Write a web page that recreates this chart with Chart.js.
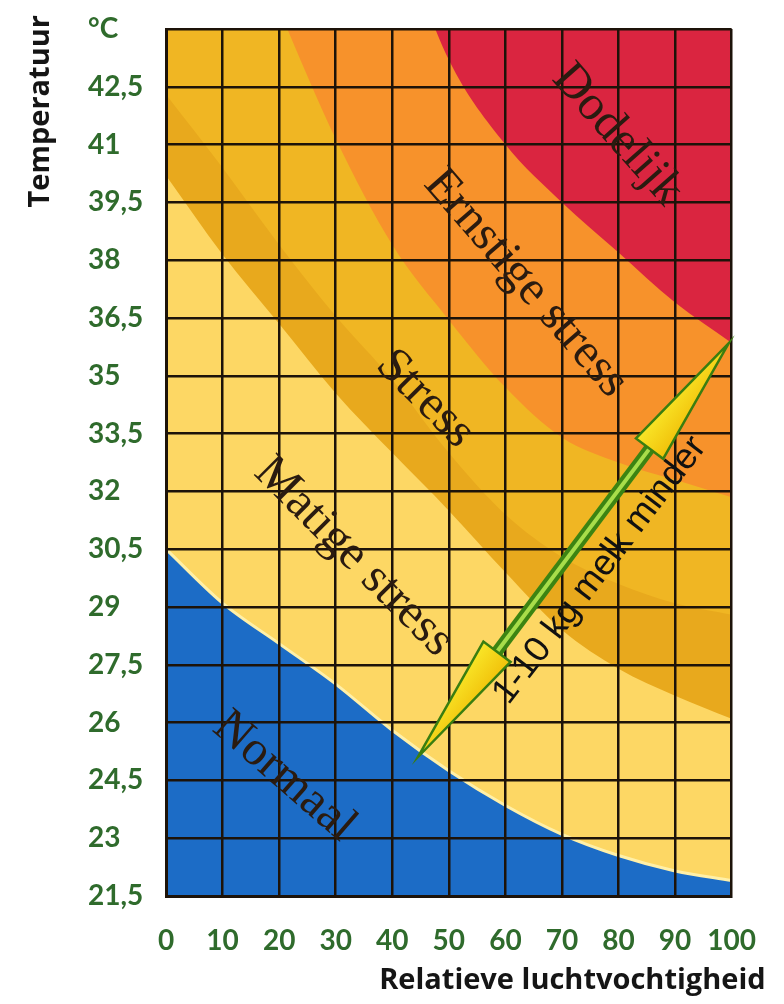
<!DOCTYPE html>
<html>
<head>
<meta charset="utf-8">
<script src="https://cdn.jsdelivr.net/npm/chart.js@4.4.1/dist/chart.umd.min.js"></script>
<style>
  html, body { margin: 0; padding: 0; background: #fff; }
  #wrap { width: 784px; height: 1004px; position: relative; }
</style>
</head>
<body>
<div id="wrap"><canvas id="chart"></canvas></div>
<script>
const humidity = [0, 10, 20, 30, 40, 50, 60, 70, 80, 90, 100]

// Upper temperature (°C) of each zone per humidity step
const normaalGrens  = [30.5, 29.1, 28.05, 27.0, 25.8, 24.75, 23.85, 23.1, 22.55, 22.15, 21.9]
const matigGrens    = [40.2, 38.15, 36.35, 34.55, 33.0, 31.5, 29.9, 28.4, 27.4, 26.7, 26.1]
const stressGrens   = [42.3, 40.4, 38.4, 36.55, 34.9, 33.0, 31.4, 30.3, 29.6, 29.1, 28.8]
const ernstigGrens  = [null, 48.0, 44.5, 41.15, 38.4, 36.45, 34.7, 33.4, 32.75, 32.3, 31.85]
const dodelijkGrens = [null, null, null, null, 47.0, 43.2, 41.0, 39.5, 38.2, 36.9, 35.85]

const tempTicks = [21.5, 23, 24.5, 26, 27.5, 29, 30.5, 32, 33.5, 35, 36.5, 38, 39.5, 41, 42.5, 44]

const zoneLabels = [
  { text: 'Dodelijk',        x: 79.8, y: 41.25, angle: 48.5 },
  { text: 'Ernstige stress', x: 63.6, y: 37.4,  angle: 49 },
  { text: 'Stress',          x: 45.8, y: 34.4,  angle: 45 },
  { text: 'Matige stress',   x: 33.2, y: 30.3,  angle: 45 },
  { text: 'Normaal',         x: 20.9, y: 24.6,  angle: 41 },
]
const arrowLabel = { text: '1-10 kg melk minder', x: 76.7, y: 29.95, angle: -52.5 }
const arrowEnds = [{ x: 44.5, y: 25.1 }, { x: 99.5, y: 35.85 }]

const GREEN = '#2f6b2c'
const GRID = '#1d1309'

const points = arr => humidity.map((x, i) => ({ x, y: arr[i] }))

function zone(arr, color, fill, order, extra) {
  return Object.assign({
    data: points(arr),
    backgroundColor: color,
    borderWidth: 0,
    pointRadius: 0,
    tension: 0.4,
    cubicInterpolationMode: 'monotone',
    fill,
    order
  }, extra || {})
}

function drawArrow(ctx, x1, y1, x2, y2) {
  const ang = Math.atan2(y2 - y1, x2 - x1)
  const len = Math.hypot(x2 - x1, y2 - y1)
  const head = 132, half = 17
  ctx.save()
  ctx.translate(x1, y1)
  ctx.rotate(ang)

  // shaft
  ctx.lineCap = 'butt'
  ctx.strokeStyle = '#3c8412'
  ctx.lineWidth = 12
  ctx.beginPath(); ctx.moveTo(head - 2, 0); ctx.lineTo(len - head + 2, 0); ctx.stroke()
  ctx.strokeStyle = '#a8dd4a'
  ctx.lineWidth = 4
  ctx.beginPath(); ctx.moveTo(head, 0); ctx.lineTo(len - head, 0); ctx.stroke()

  // heads
  const tri = (tip, base) => {
    ctx.beginPath()
    ctx.moveTo(tip, 0)
    ctx.lineTo(base, -half)
    ctx.lineTo(base, half)
    ctx.closePath()
    const g = ctx.createLinearGradient(0, -half, 0, half)
    g.addColorStop(0, '#f9e628')
    g.addColorStop(1, '#f1c10a')
    ctx.fillStyle = g
    ctx.fill()
    ctx.lineJoin = 'miter'
    ctx.lineWidth = 2.5
    ctx.strokeStyle = '#3a7e10'
    ctx.stroke()
  }
  tri(0, head)
  tri(len, len - head)
  ctx.restore()
}

const annotations = {
  id: 'annotations',
  afterDraw(chart) {
    const { ctx, chartArea, scales: { x, y } } = chart

    ctx.save()
    ctx.beginPath()
    ctx.rect(chartArea.left, chartArea.top, chartArea.right - chartArea.left, chartArea.bottom - chartArea.top)
    ctx.clip()
    ctx.fillStyle = '#2a1b10'
    ctx.textAlign = 'center'
    ctx.textBaseline = 'middle'
    ctx.font = '49px "Liberation Serif", "Times New Roman", serif'
    zoneLabels.forEach(l => {
      ctx.save()
      ctx.translate(x.getPixelForValue(l.x), y.getPixelForValue(l.y))
      ctx.rotate(l.angle * Math.PI / 180)
      ctx.fillText(l.text, 0, 0)
      ctx.restore()
    })
    ctx.restore()

    const [a, b] = arrowEnds
    drawArrow(ctx, x.getPixelForValue(a.x), y.getPixelForValue(a.y), x.getPixelForValue(b.x), y.getPixelForValue(b.y))

    ctx.save()
    ctx.fillStyle = '#111'
    ctx.textAlign = 'center'
    ctx.textBaseline = 'middle'
    ctx.font = '36px "Liberation Sans", Arial, sans-serif'
    ctx.translate(x.getPixelForValue(arrowLabel.x), y.getPixelForValue(arrowLabel.y))
    ctx.rotate(arrowLabel.angle * Math.PI / 180)
    ctx.fillText(arrowLabel.text, 0, 0)
    ctx.restore()

    // axis titles
    ctx.save()
    ctx.fillStyle = '#151515'
    ctx.font = 'bold 29px "Open Sans", sans-serif'
    ctx.textAlign = 'right'
    ctx.textBaseline = 'alphabetic'
    ctx.fillText('Relatieve luchtvochtigheid', chartArea.right + 34, chartArea.bottom + 93)
    ctx.translate(49, chartArea.top - 14)
    ctx.rotate(-Math.PI / 2)
    ctx.fillText('Temperatuur', 0, 0)
    ctx.restore()
  }
}

const tickFont = { family: 'Lato', weight: 'bold', size: 28 }

new Chart(document.getElementById('chart'), {
  type: 'line',
  data: {
    datasets: [
      zone(normaalGrens, '#1c6cc6', 'start', 6),
      zone(normaalGrens, '#fdd764', 'end', 5, { borderColor: '#fff0a8', borderWidth: 3 }),
      zone(matigGrens, '#e8a91d', 'end', 4),
      zone(stressGrens, '#f0b623', 'end', 3),
      zone(ernstigGrens, '#f7922b', 'end', 2),
      zone(dodelijkGrens, '#da2540', 'end', 1),
    ]
  },
  options: {
    responsive: true,
    maintainAspectRatio: false,
    animation: false,
    devicePixelRatio: 1,
    layout: { padding: { left: 88, top: 29, right: 43, bottom: 0 } },
    plugins: { legend: { display: false }, tooltip: { enabled: false } },
    scales: {
      x: {
        type: 'linear',
        min: 0,
        max: 100,
        ticks: { stepSize: 10, color: GREEN, font: tickFont, padding: 28, autoSkip: false, maxRotation: 0 },
        grid: { color: GRID, lineWidth: 2.5, drawTicks: false, z: 1 },
        border: { color: GRID, width: 3, z: 1 },
        afterFit: axis => { axis.height = 108 }
      },
      y: {
        type: 'linear',
        min: 21.5,
        max: 44,
        afterBuildTicks: axis => { axis.ticks = tempTicks.map(value => ({ value })) },
        ticks: {
          color: GREEN,
          font: tickFont,
          crossAlign: 'far',
          callback: v => v === 44 ? '°C' : String(v).replace('.', ',')
        },
        grid: { color: GRID, lineWidth: 2.5, drawTicks: false, z: 1 },
        border: { color: GRID, width: 3, z: 1 },
        afterFit: axis => { axis.width = 78 }
      }
    }
  },
  plugins: [annotations]
})
</script>
</body>
</html>
